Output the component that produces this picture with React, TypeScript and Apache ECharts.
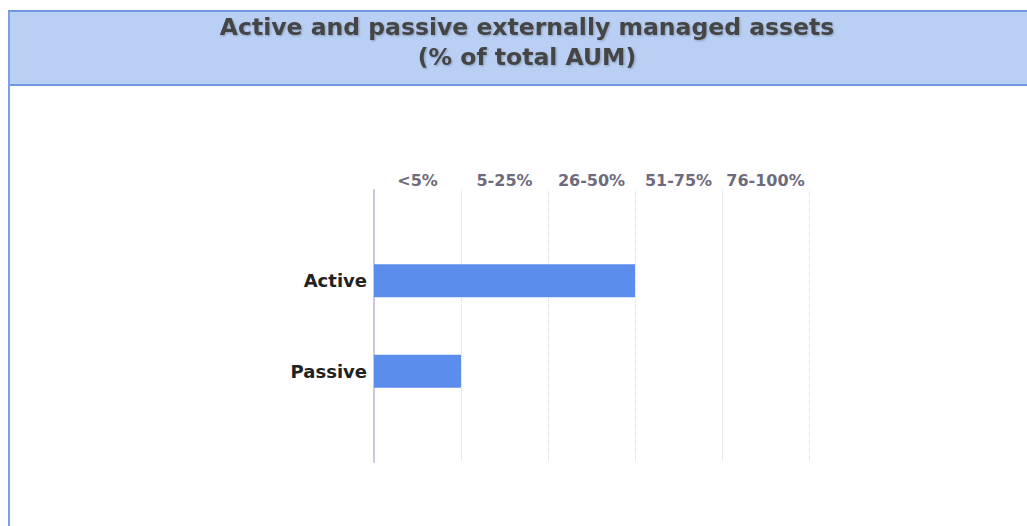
import React, { useEffect, useRef } from "react";
import * as echarts from "echarts";

const titleLines = ["Active and passive externally managed assets", "(% of total AUM)"];
const categories = ["Active", "Passive"];
const rangeLabels = ["<5%", "5-25%", "26-50%", "51-75%", "76-100%"];
// value = number of range bands covered (1 = <5%, 3 = 26-50%)
const values = [3, 1];

export default function App() {
  const ref = useRef<HTMLDivElement>(null);
  useEffect(() => {
    if (!ref.current) return;
    const chart = echarts.init(ref.current, null, { renderer: "svg" });
    const yData = ["", ...categories, ""];
    const seriesData = [null, ...values, null];
    chart.setOption({
      animation: false,
      backgroundColor: "#ffffff",
      title: {
        text: titleLines.join("\n"),
        left: 522,
        top: 7,
        textAlign: "center",
        textStyle: {
          fontFamily: "DejaVu Sans",
          fontWeight: "bold",
          fontSize: 23.5,
          lineHeight: 30,
          color: "#454545",
          textShadowColor: "rgba(0,0,0,0.25)",
          textShadowBlur: 2,
          textShadowOffsetX: 1,
          textShadowOffsetY: 1,
        },
      },
      graphic: [
        {
          type: "rect",
          z: -10,
          silent: true,
          shape: { x: 9, y: 11, width: 1030, height: 74 },
          style: { fill: "#b9cff4", stroke: "#6f97e2", lineWidth: 2 },
        },
        {
          type: "line",
          z: -5,
          silent: true,
          shape: { x1: 9, y1: 11, x2: 9, y2: 530 },
          style: { stroke: "#7aa0e8", lineWidth: 2 },
        },
      ],
      grid: { left: 374, right: 218, top: 190, bottom: 64, containLabel: false },
      xAxis: [
        {
          type: "value",
          min: 0,
          max: 5,
          interval: 1,
          position: "top",
          axisLabel: { show: false },
          axisLine: { show: false },
          axisTick: { show: false },
          splitLine: { show: true, lineStyle: { color: "#d6d6de", type: "dotted", width: 1 } },
        },
        {
          type: "category",
          position: "top",
          data: rangeLabels,
          boundaryGap: true,
          axisLine: { show: false },
          axisTick: { show: false },
          splitLine: { show: false },
          axisLabel: {
            interval: 0,
            margin: 2,
            fontFamily: "DejaVu Sans",
            fontWeight: "bold",
            fontSize: 16,
            color: "#6e6b7d",
          },
        },
      ],
      yAxis: {
        type: "category",
        data: yData,
        inverse: true,
        boundaryGap: false,
        axisLine: { show: true, lineStyle: { color: "#cbc8de", width: 2 } },
        axisTick: { show: false },
        splitLine: { show: false },
        axisLabel: {
          interval: 0,
          margin: 7,
          fontFamily: "DejaVu Sans",
          fontWeight: "bold",
          fontSize: 18,
          color: "#222222",
        },
      },
      series: [
        {
          type: "bar",
          xAxisIndex: 0,
          yAxisIndex: 0,
          data: seriesData,
          barWidth: 33,
          itemStyle: { color: "#5b8dec" },
        },
      ],
    });
    return () => chart.dispose();
  }, []);
  return (
    <div
      ref={ref}
      style={{ position: "fixed", left: 0, top: 0, width: 1027, height: 526 }}
    />
  );
}
